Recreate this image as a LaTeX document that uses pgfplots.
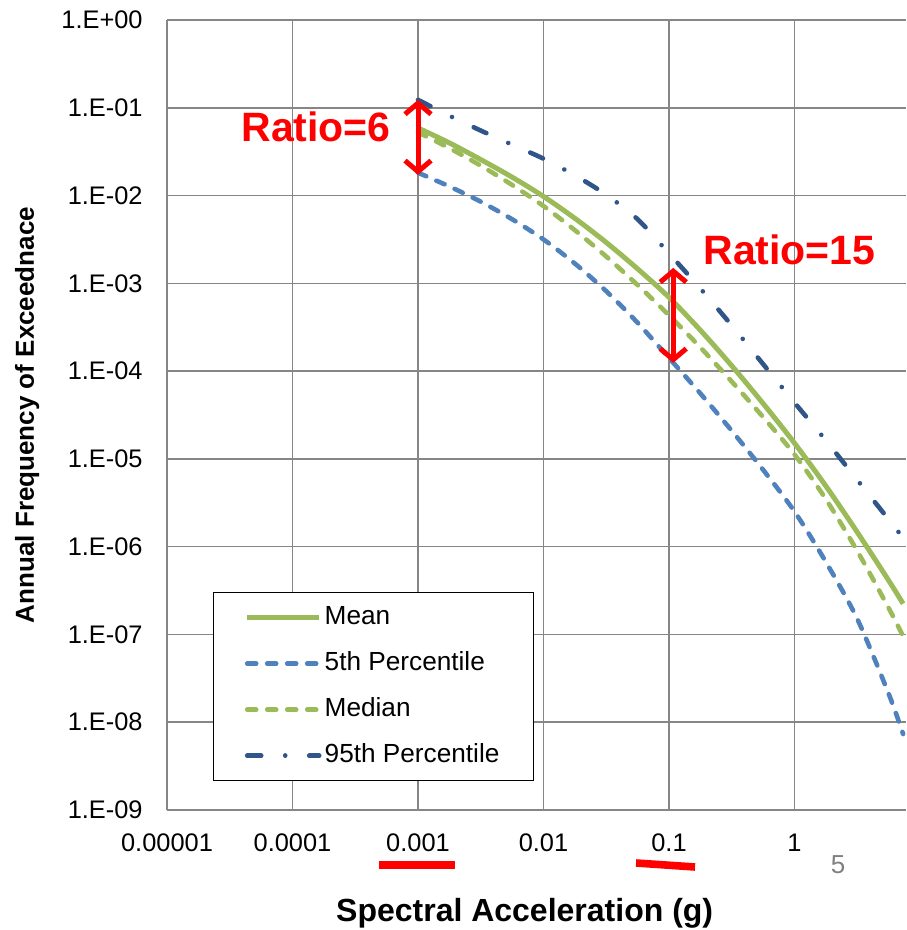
\documentclass[border=0pt]{standalone}
\usepackage{fontspec}
\setmainfont{Liberation Sans}
\usepackage{pgfplots}
\pgfplotsset{compat=1.18}
\usetikzlibrary{arrows.meta}
\definecolor{exgreen}{RGB}{155,187,89}
\definecolor{exblue}{RGB}{79,129,189}
\definecolor{exdark}{RGB}{47,85,137}
\definecolor{gridgray}{RGB}{134,134,134}
\begin{document}
\begin{tikzpicture}[x=1pt,y=1pt]
\useasboundingbox (0,0) rectangle (453,465);
\begin{axis}[
  at={(83.5pt,60pt)}, anchor=south west,
  scale only axis, width=369.5pt, height=395pt,
  xmode=log, ymode=log,
  xmin=1e-5, xmax=7.73, ymin=1e-9, ymax=1,
  axis x line*=bottom, axis y line*=left,
  axis line style={gridgray, line width=0.75pt, -},
  grid=major, major grid style={gridgray, line width=0.75pt},
  major tick length=0pt, minor tick length=0pt,
  xtick={0.00001,0.0001,0.001,0.01,0.1,1},
  xticklabels={0.00001,0.0001,0.001,0.01,0.1,1},
  ytick={1e-9,1e-8,1e-7,1e-6,1e-5,1e-4,1e-3,1e-2,1e-1,1},
  yticklabels={1.E-09,1.E-08,1.E-07,1.E-06,1.E-05,1.E-04,1.E-03,1.E-02,1.E-01,1.E+00},
  /pgf/number format/assume math mode=true,
  xticklabel style={font=\fontsize{12.7}{15}\selectfont, anchor=center, inner sep=0pt, yshift=-16.5pt},
  yticklabel style={font=\fontsize{12.7}{15}\selectfont, anchor=east, inner sep=0pt, xshift=-12pt},
  xlabel={Spectral Acceleration (g)},
  xlabel style={font=\fontsize{16}{19}\bfseries\selectfont, at={(axis description cs:0.484,-0.1405)}, anchor=base},
  ylabel={Annual Frequency of Exceednace},
  ylabel style={font=\fontsize{13}{15}\bfseries\selectfont, at={(axis description cs:-0.18,0.5)}, anchor=base},
  legend style={at={(0.0622,0.276)}, anchor=north west, draw=black, line width=0.75pt, fill=white,
    inner xsep=15.5pt, inner ysep=6pt, row sep=10pt, font=\fontsize{13.1}{15}\selectfont,
    nodes={inner xsep=1.5pt, inner ysep=0pt, text height=10pt, text depth=3pt}},
  legend cell align=left,
  legend image code/.code={\draw[#1] (0pt,0pt) -- (36pt,0pt);},
]
\addplot[exgreen, line width=2.5pt, smooth] coordinates {
 (0.001,0.0589) (0.001778,0.0398) (0.003162,0.0257) (0.005623,0.0162) (0.01,0.00977)
 (0.01778,0.0055) (0.03162,0.00292) (0.05623,0.00146) (0.1,6.92e-4) (0.1778,2.92e-4)
 (0.3162,1.15e-4) (0.5623,4.27e-5) (1,1.51e-5) (1.778,4.9e-6) (3.162,1.46e-6)
 (5.623,4.12e-7) (7.33,2.24e-7)};
\addlegendentry{Mean}
\addplot[exblue, line width=2.3pt, line cap=round, dash pattern=on 4.5pt off 5.5pt, smooth] coordinates {
 (0.001,0.0182) (0.001778,0.0127) (0.003162,0.00851) (0.005623,0.00537) (0.01,0.00316)
 (0.01778,0.00168) (0.03162,8.13e-4) (0.05623,3.55e-4) (0.1,1.41e-4) (0.1778,5.56e-5)
 (0.3162,2.09e-5) (0.5623,7.5e-6) (1,2.51e-6) (1.778,6.68e-7) (3.162,1.5e-7)
 (5.623,2.11e-8) (7.33,7.33e-9)};
\addlegendentry{5th Percentile}
\addplot[exgreen, line width=2.3pt, line cap=round, dash pattern=on 4.5pt off 5.5pt, smooth] coordinates {
 (0.001,0.0525) (0.001778,0.0347) (0.003162,0.0219) (0.005623,0.0132) (0.01,0.00759)
 (0.01778,0.00403) (0.03162,0.00202) (0.05623,9.55e-4) (0.1,4.32e-4) (0.1778,1.86e-4)
 (0.3162,7.59e-5) (0.5623,2.99e-5) (1,1.12e-5) (1.778,3.47e-6) (3.162,8.91e-7)
 (5.623,2.0e-7) (7.33,9.55e-8)};
\addlegendentry{Median}
\addplot[exdark, line width=2.3pt, line cap=round, dash pattern=on 7pt off 12pt on 0.01pt off 12pt, smooth] coordinates {
 (0.001,0.123) (0.001778,0.0813) (0.003162,0.055) (0.005623,0.038) (0.01,0.0263)
 (0.01778,0.017) (0.03162,0.0102) (0.05623,0.00537) (0.1,0.00219) (0.1778,8.71e-4)
 (0.3162,3.31e-4) (0.5623,1.2e-4) (1,4.37e-5) (1.778,1.62e-5) (3.162,5.75e-6)
 (5.623,2.04e-6) (7.33,1.26e-6)};
\addlegendentry{95th Percentile}
\draw[red, line width=2.5pt, {Straight Barb[length=5.5pt,width=13pt]}-{Straight Barb[length=5.5pt,width=13pt]}]
  (axis cs:0.001,0.123) -- (axis cs:0.001,0.0172);
\draw[red, line width=2.5pt, {Straight Barb[length=5.5pt,width=13pt]}-{Straight Barb[length=5.5pt,width=13pt]}]
  (axis cs:0.108,1.5e-3) -- (axis cs:0.108,1.24e-4);
\node[red, font=\fontsize{20.5}{24}\bfseries\selectfont, inner sep=0pt] at (axis cs:1.54e-4,0.0604) {Ratio=6};
\node[red, font=\fontsize{20.5}{24}\bfseries\selectfont, inner sep=0pt] at (axis cs:0.912,0.0024) {Ratio=15};
\end{axis}
\draw[red, line width=3.8pt] (189.5,32.5) -- (227.5,32.5);
\draw[red, line width=3.8pt] (318,33.5) -- (347.5,31.5);
\node[gray, font=\fontsize{13}{15}\selectfont, inner sep=0pt] at (419,32.5) {5};
\end{tikzpicture}
\end{document}
